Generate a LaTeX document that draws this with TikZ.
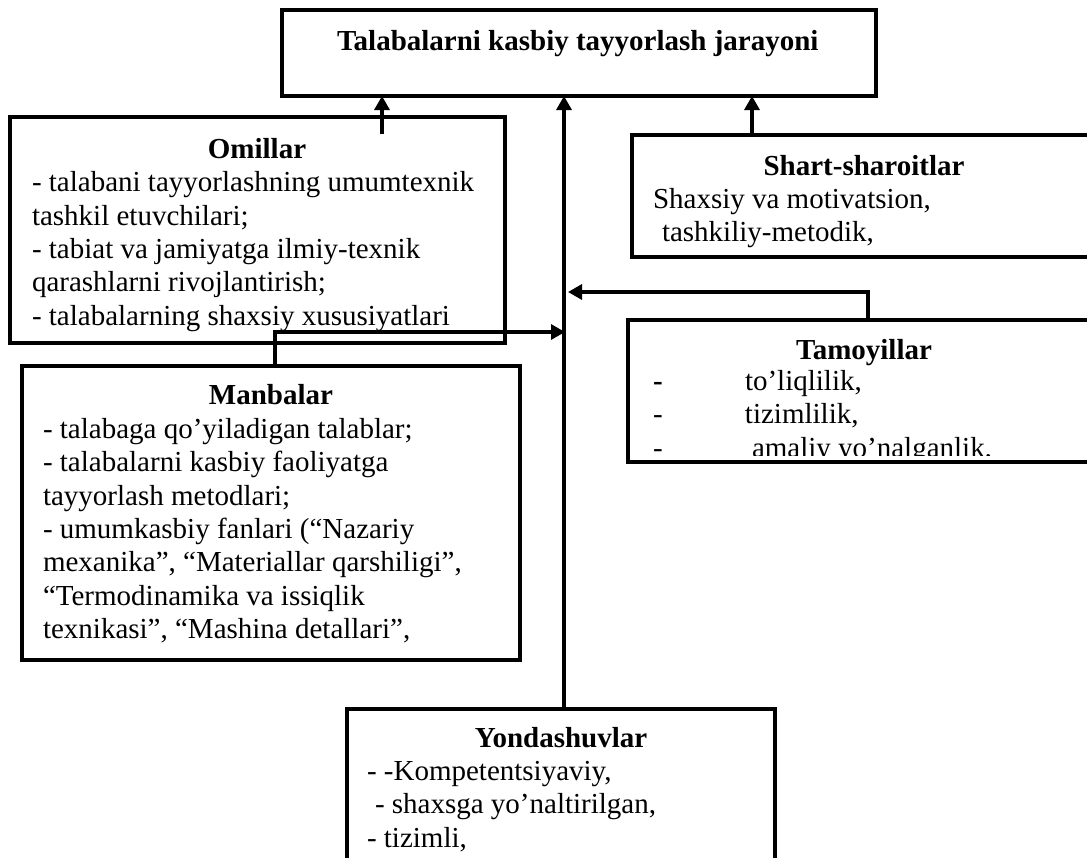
\documentclass[tikz,border=0pt]{standalone}
\usepackage{fontspec}
\setmainfont{Liberation Serif}
\usetikzlibrary{arrows.meta,calc}
\begin{document}
\begin{tikzpicture}[x=1pt,y=-1pt,
  box/.style={draw, line width=3.6pt, anchor=north west, inner sep=0pt, outer sep=0pt},
  txt/.style={anchor=base west, inner sep=0pt, outer sep=0pt, font=\fontsize{29}{33.4}\selectfont},
  ttl/.style={anchor=base, inner sep=0pt, outer sep=0pt, font=\fontsize{29}{33.4}\selectfont\bfseries},
  conn/.style={line width=3.2pt},
  arr/.style={conn, -{Triangle[length=14pt,width=15pt]}}]
\useasboundingbox (0,0) rectangle (1087,857);
\clip (0,0) rectangle (1087,857);

% boxes
\node[box, minimum width=594pt, minimum height=86pt] (top) at (282,10) {};
\node[box, minimum width=495pt, minimum height=226pt] (omil) at (10,117) {};
\node[box, minimum width=464pt, minimum height=122pt] (shart) at (632,135) {};
\node[box, minimum width=498pt, minimum height=294pt] (manb) at (22,366) {};
\node[box, minimum width=472pt, minimum height=142pt] (tam) at (628,320) {};
\node[box, minimum width=428pt, minimum height=200pt] (yond) at (347,709) {};

% top title
\node[ttl, anchor=base west] (tt) at (337,50) {Talabalarni kasbiy tayyorlash jarayoni};

% Omillar
\node[ttl] (omt) at (257,158) {Omillar};
\node[txt] (om1) at (32,191) {- talabani tayyorlashning umumtexnik};
\node[txt] (om2) at (32,225) {tashkil etuvchilari;};
\node[txt] (om3) at (32,258) {- tabiat va jamiyatga ilmiy-texnik};
\node[txt] (om4) at (32,291) {qarashlarni rivojlantirish;};
\node[txt] (om5) at (32,325) {- talabalarning shaxsiy xususiyatlari};

% Shart-sharoitlar
\node[ttl] (sht) at (864,175) {Shart-sharoitlar};
\node[txt] (sh1) at (653,208) {Shaxsiy va motivatsion,};
\node[txt] (sh2) at (662,241) {tashkiliy-metodik,};

% Manbalar
\node[ttl] (mbt) at (271,404) {Manbalar};
\node[txt] (mb1) at (43,438) {- talabaga qo’yiladigan talablar;};
\node[txt] (mb2) at (43,471) {- talabalarni kasbiy faoliyatga};
\node[txt] (mb3) at (43,505) {tayyorlash metodlari;};
\node[txt] (mb4) at (43,538) {- umumkasbiy fanlari (“Nazariy};
\node[txt] (mb5) at (43,571) {mexanika”, “Materiallar qarshiligi”,};
\node[txt] (mb6) at (43,605) {“Termodinamika va issiqlik};
\node[txt] (mb7) at (43,638) {texnikasi”, “Mashina detallari”,};

% Tamoyillar
\begin{scope}
\clip (628,320) rectangle (1100,455);
\node[ttl] (tmt) at (864,359) {Tamoyillar};
\node[txt] (tm1) at (653,390) {\makebox[92pt][l]{\bfseries -}to’liqlilik,};
\node[txt] (tm2) at (653,423) {\makebox[92pt][l]{-}tizimlilik,};
\node[txt] (tm3) at (653,457) {\makebox[99pt][l]{-}amaliy yo’nalganlik,};
\end{scope}
\node[box, minimum width=472pt, minimum height=142pt] at (628,320) {};

% Yondashuvlar
\node[ttl] (ydt) at (561,747) {Yondashuvlar};
\node[txt] (yd1) at (367,780) {- -Kompetentsiyaviy,};
\node[txt] (yd2) at (375,813) {- shaxsga yo’naltirilgan,};
\node[txt] (yd3) at (367,847) {- tizimli,};

% connectors
\coordinate (omA) at (382,134);
\coordinate (shA) at (752,0);
\coordinate (trunk) at (564,0);
\coordinate (mbA) at (275,332);
\coordinate (tmA) at (868,292);
\draw[arr] (omA) -- (omA |- top.south);
\draw[arr] (shA |- shart.north) -- (shA |- top.south);
\draw[arr] (trunk |- yond.north) -- (trunk |- top.south);
\draw[arr] (mbA |- manb.north) -- (mbA) -- ($(trunk |- mbA)+(1,0)$);
\draw[arr] (tmA |- tam.north) -- (tmA) -- ($(trunk |- tmA)+(4,0)$);
\end{tikzpicture}
\end{document}
